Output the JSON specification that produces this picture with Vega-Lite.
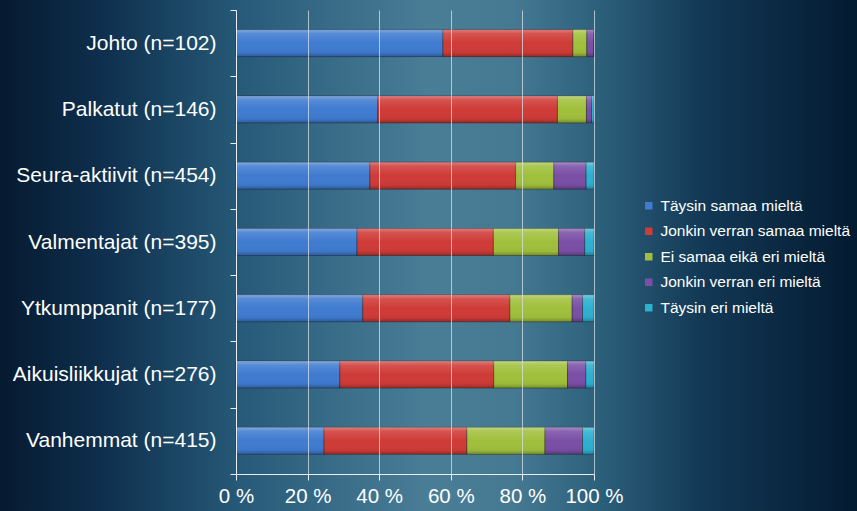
{
  "$schema": "https://vega.github.io/schema/vega-lite/v6.json",
  "autosize": {"type": "none"},
  "width": 358,
  "height": 464,
  "padding": {"left": 236, "top": 10, "right": 263, "bottom": 37},
  "background": "#0b2540",
  "config": {
    "view": {"stroke": null},
    "font": "Liberation Sans"
  },
  "datasets": {
    "vastaukset": [
      {"ryhma": "Johto (n=102)", "vastaus": "Täysin samaa mieltä", "k": 1, "osuus": 57.8},
      {"ryhma": "Johto (n=102)", "vastaus": "Jonkin verran samaa mieltä", "k": 2, "osuus": 36.3},
      {"ryhma": "Johto (n=102)", "vastaus": "Ei samaa eikä eri mieltä", "k": 3, "osuus": 3.9},
      {"ryhma": "Johto (n=102)", "vastaus": "Jonkin verran eri mieltä", "k": 4, "osuus": 2.0},
      {"ryhma": "Johto (n=102)", "vastaus": "Täysin eri mieltä", "k": 5, "osuus": 0},
      {"ryhma": "Palkatut (n=146)", "vastaus": "Täysin samaa mieltä", "k": 1, "osuus": 39.6},
      {"ryhma": "Palkatut (n=146)", "vastaus": "Jonkin verran samaa mieltä", "k": 2, "osuus": 50.2},
      {"ryhma": "Palkatut (n=146)", "vastaus": "Ei samaa eikä eri mieltä", "k": 3, "osuus": 8.1},
      {"ryhma": "Palkatut (n=146)", "vastaus": "Jonkin verran eri mieltä", "k": 4, "osuus": 1.4},
      {"ryhma": "Palkatut (n=146)", "vastaus": "Täysin eri mieltä", "k": 5, "osuus": 0.7},
      {"ryhma": "Seura-aktiivit (n=454)", "vastaus": "Täysin samaa mieltä", "k": 1, "osuus": 37.4},
      {"ryhma": "Seura-aktiivit (n=454)", "vastaus": "Jonkin verran samaa mieltä", "k": 2, "osuus": 40.7},
      {"ryhma": "Seura-aktiivit (n=454)", "vastaus": "Ei samaa eikä eri mieltä", "k": 3, "osuus": 10.7},
      {"ryhma": "Seura-aktiivit (n=454)", "vastaus": "Jonkin verran eri mieltä", "k": 4, "osuus": 9.0},
      {"ryhma": "Seura-aktiivit (n=454)", "vastaus": "Täysin eri mieltä", "k": 5, "osuus": 2.2},
      {"ryhma": "Valmentajat (n=395)", "vastaus": "Täysin samaa mieltä", "k": 1, "osuus": 33.8},
      {"ryhma": "Valmentajat (n=395)", "vastaus": "Jonkin verran samaa mieltä", "k": 2, "osuus": 38.1},
      {"ryhma": "Valmentajat (n=395)", "vastaus": "Ei samaa eikä eri mieltä", "k": 3, "osuus": 18.2},
      {"ryhma": "Valmentajat (n=395)", "vastaus": "Jonkin verran eri mieltä", "k": 4, "osuus": 7.3},
      {"ryhma": "Valmentajat (n=395)", "vastaus": "Täysin eri mieltä", "k": 5, "osuus": 2.6},
      {"ryhma": "Ytkumppanit (n=177)", "vastaus": "Täysin samaa mieltä", "k": 1, "osuus": 35.4},
      {"ryhma": "Ytkumppanit (n=177)", "vastaus": "Jonkin verran samaa mieltä", "k": 2, "osuus": 41.1},
      {"ryhma": "Ytkumppanit (n=177)", "vastaus": "Ei samaa eikä eri mieltä", "k": 3, "osuus": 17.4},
      {"ryhma": "Ytkumppanit (n=177)", "vastaus": "Jonkin verran eri mieltä", "k": 4, "osuus": 2.9},
      {"ryhma": "Ytkumppanit (n=177)", "vastaus": "Täysin eri mieltä", "k": 5, "osuus": 3.2},
      {"ryhma": "Aikuisliikkujat (n=276)", "vastaus": "Täysin samaa mieltä", "k": 1, "osuus": 29.0},
      {"ryhma": "Aikuisliikkujat (n=276)", "vastaus": "Jonkin verran samaa mieltä", "k": 2, "osuus": 43.0},
      {"ryhma": "Aikuisliikkujat (n=276)", "vastaus": "Ei samaa eikä eri mieltä", "k": 3, "osuus": 20.6},
      {"ryhma": "Aikuisliikkujat (n=276)", "vastaus": "Jonkin verran eri mieltä", "k": 4, "osuus": 5.1},
      {"ryhma": "Aikuisliikkujat (n=276)", "vastaus": "Täysin eri mieltä", "k": 5, "osuus": 2.3},
      {"ryhma": "Vanhemmat (n=415)", "vastaus": "Täysin samaa mieltä", "k": 1, "osuus": 24.6},
      {"ryhma": "Vanhemmat (n=415)", "vastaus": "Jonkin verran samaa mieltä", "k": 2, "osuus": 39.9},
      {"ryhma": "Vanhemmat (n=415)", "vastaus": "Ei samaa eikä eri mieltä", "k": 3, "osuus": 21.8},
      {"ryhma": "Vanhemmat (n=415)", "vastaus": "Jonkin verran eri mieltä", "k": 4, "osuus": 10.5},
      {"ryhma": "Vanhemmat (n=415)", "vastaus": "Täysin eri mieltä", "k": 5, "osuus": 3.2}
    ]
  },
  "resolve": {"scale": {"y": "independent"}, "axis": {"y": "independent"}},
  "layer": [
    {
      "data": {"values": [{"bg": 1}]},
      "mark": {
        "type": "rect",
        "clip": false,
        "zindex": 0,
        "color": {
          "gradient": "linear",
          "x1": 0, "y1": 0, "x2": 1, "y2": 0,
          "stops": [
            {"offset": 0, "color": "#061a30"},
            {"offset": 0.12, "color": "#0e2f4d"},
            {"offset": 0.28, "color": "#265a78"},
            {"offset": 0.5, "color": "#4a7e97"},
            {"offset": 0.6, "color": "#457891"},
            {"offset": 0.7, "color": "#2c5f7a"},
            {"offset": 0.82, "color": "#123855"},
            {"offset": 1, "color": "#031a30"}
          ]
        }
      },
      "encoding": {
        "x": {"datum": -0.66, "type": "quantitative", "scale": {"domain": [0, 1]}},
        "x2": {"datum": 1.74},
        "y": {"datum": 1.03, "type": "quantitative", "scale": {"domain": [0, 1]}, "axis": null},
        "y2": {"datum": -0.09}
      }
    },
    {
      "data": {"name": "vastaukset"},
      "layer": [
        {
          "mark": {"type": "bar", "zindex": 2, "size": 27, "stroke": "#1c1c1c", "strokeOpacity": 0.4, "strokeWidth": 1},
          "encoding": {
            "y": {
              "field": "ryhma",
              "type": "nominal",
              "sort": null,
              "scale": {"paddingInner": 0, "paddingOuter": 0},
              "axis": {
                "title": null,
                "zindex": 1,
                "tickBand": "extent",
                "domainColor": "#e8eef2",
                "tickColor": "#e8eef2",
                "tickSize": 6,
                "labelPadding": 14,
                "labelColor": "#ffffff",
                "labelFont": "Liberation Sans",
                "labelFontSize": 21,
                "labelLimit": 300
              }
            },
            "x": {
              "field": "osuus",
              "type": "quantitative",
              "stack": "normalize",
              "scale": {"domain": [0, 1]},
              "axis": {
                "title": null,
                "zindex": 1,
                "values": [0, 0.2, 0.4, 0.6, 0.8, 1],
                "labelExpr": "round(datum.value * 100) + ' %'",
                "grid": true,
                "gridColor": "#d5e2e8",
                "gridOpacity": 0.75,
                "domainColor": "#e8eef2",
                "tickColor": "#e8eef2",
                "tickSize": 6,
                "labelPadding": 6,
                "labelColor": "#ffffff",
                "labelFont": "Liberation Sans",
                "labelFontSize": 20.5,
                "labelFlush": false
              }
            },
            "order": {"field": "k", "type": "quantitative"},
            "color": {
              "field": "vastaus",
              "type": "nominal",
              "scale": {
                "domain": ["Täysin samaa mieltä", "Jonkin verran samaa mieltä", "Ei samaa eikä eri mieltä", "Jonkin verran eri mieltä", "Täysin eri mieltä"],
                "range": ["#3f7bd0", "#cf3b37", "#a0c03c", "#7a4fa6", "#2eb0d0"]
              },
              "legend": {
                "title": null,
                "zindex": 3,
                "orient": "none",
                "legendX": 405,
                "legendY": 188,
                "symbolType": "square",
                "symbolSize": 56,
                "symbolStrokeWidth": 0,
                "labelColor": "#ffffff",
                "labelFont": "Liberation Sans",
                "labelFontSize": 15.5,
                "labelOffset": 4,
                "labelLimit": 300,
                "rowPadding": 8.5
              }
            }
          }
        },
        {
          "mark": {
            "type": "bar",
            "zindex": 3,
            "size": 27,
            "color": {
              "gradient": "linear",
              "x1": 0, "y1": 0, "x2": 0, "y2": 1,
              "stops": [
                {"offset": 0, "color": "rgba(255,255,255,0.35)"},
                {"offset": 0.15, "color": "rgba(255,255,255,0.12)"},
                {"offset": 0.5, "color": "rgba(255,255,255,0)"},
                {"offset": 0.85, "color": "rgba(0,0,0,0.04)"},
                {"offset": 1, "color": "rgba(0,0,0,0.28)"}
              ]
            }
          },
          "encoding": {
            "y": {"field": "ryhma", "type": "nominal", "sort": null},
            "x": {"field": "osuus", "type": "quantitative", "stack": "normalize"},
            "order": {"field": "k", "type": "quantitative"},
            "detail": {"field": "vastaus", "type": "nominal"}
          }
        }
      ]
    }
  ]
}
